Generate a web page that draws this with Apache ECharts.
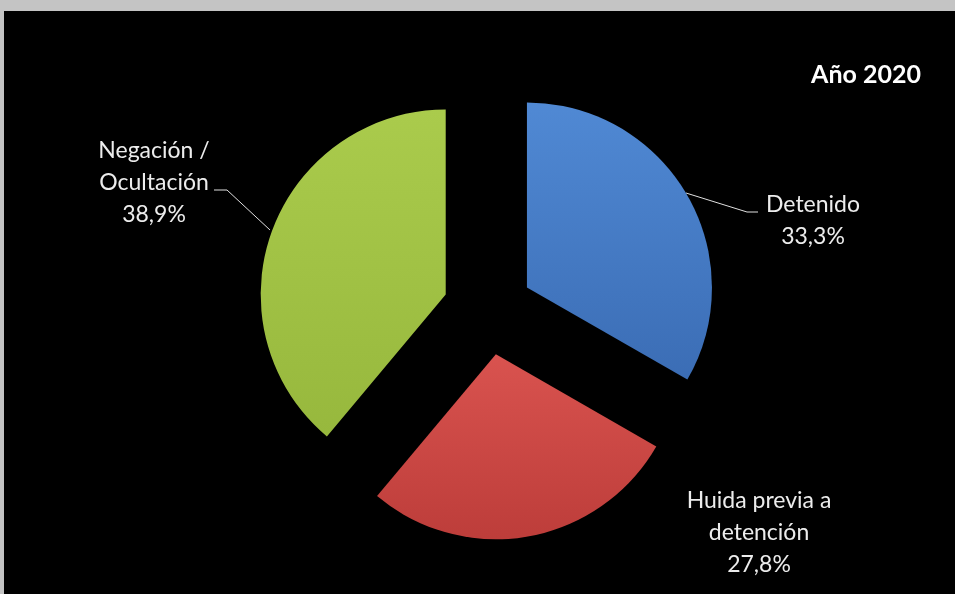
<!DOCTYPE html>
<html>
<head>
<meta charset="utf-8">
<script src="https://cdn.jsdelivr.net/npm/echarts@6/dist/echarts.min.js"></script>
<style>
html,body{margin:0;padding:0;background:#c4c4c4;width:955px;height:594px;overflow:hidden;}
#chart{position:absolute;left:4px;top:11px;width:951px;height:583px;background:#000;}
</style>
</head>
<body>
<div id="chart"></div>
<script>
const title = 'Año 2020';
const categories = ['Detenido', 'Huida previa a\ndetención', 'Negación /\nOcultación'];
const values = [33.3, 27.8, 38.9];
const colorsTop = ['#5089d4', '#d9534f', '#aacb4c'];
const colorsBottom = ['#3b6db5', '#bd3d3a', '#97b83d'];

// layout (container coordinates)
const center = [484, 299];
const radius = 185;
const explode = 45;
const labelPos = [
  {x: 809, y: 210, line: [[682,182],[743,201],[754,201]]},
  {x: 755, y: 522, line: null},
  {x: 150, y: 172, line: [[266,219],[223,179],[210,179]]}
];

const total = values.reduce((a, b) => a + b, 0);
let acc = 0;
const mids = values.map(v => { const m = (acc + v / 2) / total * 2 * Math.PI; acc += v; return m; });

const chart = echarts.init(document.getElementById('chart'), null, {renderer: 'canvas'});

const series = categories.map((cat, k) => {
  const dx = Math.sin(mids[k]) * explode;
  const dy = -Math.cos(mids[k]) * explode;
  return {
    type: 'pie',
    center: [center[0] + dx, center[1] + dy],
    radius: radius,
    startAngle: 90,
    clockwise: true,
    silent: true,
    emphasis: {disabled: true, scale: false},
    data: categories.map((c, i) => ({
      name: c,
      value: values[i],
      itemStyle: i === k ? {
        color: {
          type: 'linear', x: 0, y: 0, x2: 0, y2: 1,
          colorStops: [{offset: 0, color: colorsTop[i]}, {offset: 1, color: colorsBottom[i]}]
        }
      } : {color: 'rgba(0,0,0,0)'},
      label: {show: i === k},
      labelLine: {show: i === k && labelPos[i].line !== null}
    })),
    label: {
      color: '#ececec',
      fontFamily: 'Lato',
      fontSize: 23,
      lineHeight: 32,
      align: 'center',
      formatter: p => p.name + '\n' + p.value.toFixed(1).replace('.', ',') + '%'
    },
    labelLine: {lineStyle: {color: '#e0e0e0', width: 1}},
    labelLayout: function (params) {
      const lp = labelPos[params.dataIndex];
      const r = {x: lp.x, y: lp.y, align: 'center', verticalAlign: 'middle'};
      if (lp.line) r.labelLinePoints = lp.line;
      return r;
    }
  };
});

chart.setOption({
  backgroundColor: '#000',
  animation: false,
  title: {
    text: title,
    right: 29,
    top: 46,
    textStyle: {color: '#ffffff', fontFamily: 'Lato', fontWeight: 'bold', fontSize: 25}
  },
  series: series
});
</script>
</body>
</html>
